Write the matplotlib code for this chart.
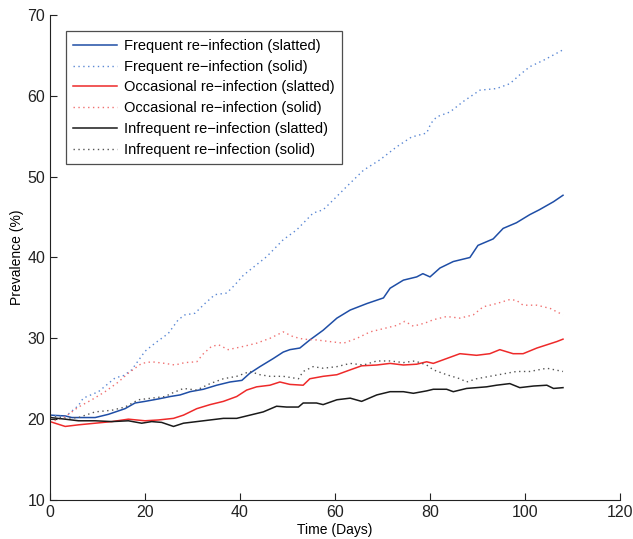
import matplotlib
matplotlib.use("Agg")
import matplotlib.pyplot as plt

plt.rcParams['font.family'] = ['Liberation Sans', 'DejaVu Sans']

# Frequent re-infection
freq_slat_days = [0, 3.2, 4.6, 9.5, 12.3, 15.8, 17.9, 20, 22.8, 25.3, 27.4, 29.5, 32.3, 35.1,
                  37.9, 40.4, 42.1, 44.2, 47, 49.1, 50.5, 52.6, 54.7, 57.5, 60.4, 63.2, 66.7,
                  70.2, 71.6, 74.4, 77.2, 78.5, 80, 82.1, 84.9, 88.4, 90.1, 93.3, 95.4, 98.2,
                  101, 103, 106, 108]
freq_slat_vals = [20.5, 20.4, 20.2, 20.2, 20.6, 21.3, 22.0, 22.2, 22.5, 22.8, 23.0, 23.4, 23.7, 24.2,
                  24.6, 24.8, 25.7, 26.5, 27.5, 28.3, 28.6, 28.8, 29.8, 31.0, 32.5, 33.5, 34.3,
                  35.0, 36.2, 37.2, 37.6, 38.0, 37.6, 38.7, 39.5, 40.0, 41.5, 42.3, 43.6, 44.3,
                  45.3, 45.9, 46.9, 47.7]

freq_solid_days = [0, 3.2, 6, 7, 10.2, 13.7, 15.5, 17.2, 20, 22.1, 24.9, 27, 28.4, 30.5, 32.6, 34.7,
                   37.2, 38.9, 40.7, 45.6, 49.1, 51.9, 55.4, 57.5, 59.6, 62.5, 66, 69.5, 73,
                   76.1, 79.3, 80.2, 81.4, 84.2, 87, 90.5, 94, 96.8, 98.9, 101, 103.9, 107.4, 108]
freq_solid_vals = [20.5, 20.3, 21.7, 22.6, 23.4, 25.1, 25.4, 26.1, 28.4, 29.4, 30.6, 32.3, 32.9, 33.1, 34.3, 35.4,
                   35.6, 36.6, 37.8, 40.1, 42.2, 43.4, 45.5, 45.9, 47.1, 48.8, 50.8, 52.1, 53.7,
                   54.9, 55.4, 56.6, 57.4, 58.0, 59.3, 60.7, 60.9, 61.5, 62.6, 63.6, 64.4, 65.5, 65.7]

# Occasional re-infection
occ_slat_days = [0, 3.2, 6, 9.5, 13, 16.5, 20, 22.8, 26, 28.1, 30.9, 33.7, 36.5, 39.3, 41.4, 43.5,
                 46.3, 48.4, 50.5, 53.3, 54.7, 57.5, 60.4, 63.2, 65.6, 68.8, 71.6, 74.4, 77.2,
                 79.3, 80.7, 83.5, 86.3, 89.8, 92.6, 94.7, 97.5, 99.6, 102.5, 104.6, 106.7, 108]
occ_slat_vals = [19.7, 19.1, 19.3, 19.5, 19.7, 20.0, 19.8, 19.9, 20.1, 20.5, 21.3, 21.8, 22.2, 22.8, 23.6, 24.0,
                 24.2, 24.6, 24.3, 24.2, 25.0, 25.3, 25.5, 26.1, 26.6, 26.7, 26.9, 26.7, 26.8,
                 27.1, 26.9, 27.5, 28.1, 27.9, 28.1, 28.6, 28.1, 28.1, 28.8, 29.2, 29.6, 29.9]

occ_solid_days = [0, 3.2, 6, 8.8, 11.6, 14.4, 16.5, 19.3, 21.4, 24.2, 26.3, 28.4, 30.9, 32.3, 34,
                  35.5, 37.5, 40.7, 43.5, 46.3, 49.1, 51.2, 53.3, 56.1, 58.9, 61.8, 64.6, 67.4,
                  70.2, 73, 74.7, 76.5, 79, 80.7, 83.5, 86.3, 89.1, 91.2, 94, 96.8, 98.2, 99.6,
                  102.5, 105.3, 108]
occ_solid_vals = [19.6, 20.3, 21.5, 22.4, 23.4, 24.6, 25.7, 26.9, 27.1, 26.9, 26.7, 27.0, 27.1, 28.1, 29.0,
                  29.2, 28.6, 29.0, 29.4, 30.0, 30.8, 30.2, 29.9, 29.8, 29.6, 29.4, 30.0, 30.8,
                  31.2, 31.6, 32.1, 31.5, 31.9, 32.3, 32.7, 32.5, 32.9, 33.9, 34.3, 34.8, 34.7, 34.1,
                  34.1, 33.7, 32.9]

# Infrequent re-infection
infr_slat_days = [0, 3.2, 6, 9.5, 13, 16.5, 19.3, 21.4, 23.5, 26, 28.1, 30.9, 33.7, 36.5, 39.3, 42.1,
                  44.9, 47.7, 49.8, 52.3, 53.3, 56.1, 57.5, 60.4, 63.2, 65.6, 68.8, 71.6, 74.4,
                  76.5, 79.3, 80.7, 83.5, 84.9, 87.7, 91.9, 94, 96.8, 98.9, 101.8, 104.6, 106, 108]
infr_slat_vals = [20.2, 20.0, 19.8, 19.8, 19.7, 19.8, 19.5, 19.7, 19.6, 19.1, 19.5, 19.7, 19.9, 20.1, 20.1, 20.5,
                  20.9, 21.6, 21.5, 21.5, 22.0, 22.0, 21.8, 22.4, 22.6, 22.2, 23.0, 23.4, 23.4,
                  23.2, 23.5, 23.7, 23.7, 23.4, 23.8, 24.0, 24.2, 24.4, 23.9, 24.1, 24.2, 23.8, 23.9]

infr_solid_days = [0, 3.2, 6, 9.5, 13, 15.8, 18.6, 21.4, 24.2, 26, 28.1, 30.9, 33.7, 36.5, 39.3, 42.1,
                   44.2, 46.3, 49.1, 52.3, 53.3, 55.4, 57.5, 60.4, 63.2, 66, 68.8, 71.6, 74.4,
                   76.8, 79.3, 80.7, 83.5, 86.3, 87.7, 89.8, 92.6, 95.4, 98.2, 101, 104.6, 108]
infr_solid_vals = [20.4, 20.1, 20.2, 20.9, 21.1, 21.5, 22.4, 22.6, 22.8, 23.3, 23.8, 23.6, 24.4, 25.0, 25.3, 25.9,
                   25.5, 25.3, 25.3, 25.0, 25.9, 26.5, 26.3, 26.5, 26.9, 26.7, 27.2, 27.2, 27.0,
                   27.2, 26.7, 26.1, 25.5, 25.0, 24.6, 25.0, 25.3, 25.6, 25.9, 25.9, 26.3, 25.9]

labels = ['Frequent re\u2212infection (slatted)', 'Frequent re\u2212infection (solid)',
          'Occasional re\u2212infection (slatted)', 'Occasional re\u2212infection (solid)',
          'Infrequent re\u2212infection (slatted)', 'Infrequent re\u2212infection (solid)']

x_ticks = [0, 20, 40, 60, 80, 100, 120]
y_ticks = [10, 20, 30, 40, 50, 60, 70]

fig = plt.figure(figsize=(6.33, 5.39), dpi=100)
ax = fig.add_axes([50 / 633, 1 - 500 / 539, 570 / 633, 485 / 539])

dot = (0, (1, 2.5))
ax.plot(freq_slat_days, freq_slat_vals, color='#1f4ea6', lw=1.1, label=labels[0])
ax.plot(freq_solid_days, freq_solid_vals, color='#5b88d4', lw=1.0, ls=dot, label=labels[1])
ax.plot(occ_slat_days, occ_slat_vals, color='#ee2a2a', lw=1.1, label=labels[2])
ax.plot(occ_solid_days, occ_solid_vals, color='#f07070', lw=1.0, ls=dot, label=labels[3])
ax.plot(infr_slat_days, infr_slat_vals, color='#1a1a1a', lw=1.1, label=labels[4])
ax.plot(infr_solid_days, infr_solid_vals, color='#555555', lw=1.0, ls=dot, label=labels[5])

ax.set_xlim(0, 120)
ax.set_ylim(10, 70)
ax.set_xticks(x_ticks)
ax.set_yticks(y_ticks)
ax.tick_params(direction='in', length=5, width=0.8, labelsize=11.5, colors='#222222')
ax.spines['top'].set_visible(False)
ax.spines['right'].set_visible(False)
for s in ('left', 'bottom'):
    ax.spines[s].set_linewidth(0.8)
    ax.spines[s].set_color('#222222')

ax.set_xlabel('Time (Days)', fontsize=10, labelpad=2)
ax.set_ylabel('Prevalence (%)', fontsize=10, labelpad=2)

leg = ax.legend(loc='upper left', bbox_to_anchor=(0.028, 0.966), fontsize=10.5,
                frameon=True, fancybox=False, edgecolor='#222222', handlelength=3.0,
                handletextpad=0.5, labelspacing=0.47, borderpad=0.5, borderaxespad=0)
leg.get_frame().set_linewidth(0.9)

fig.savefig('out.png', dpi=100)
